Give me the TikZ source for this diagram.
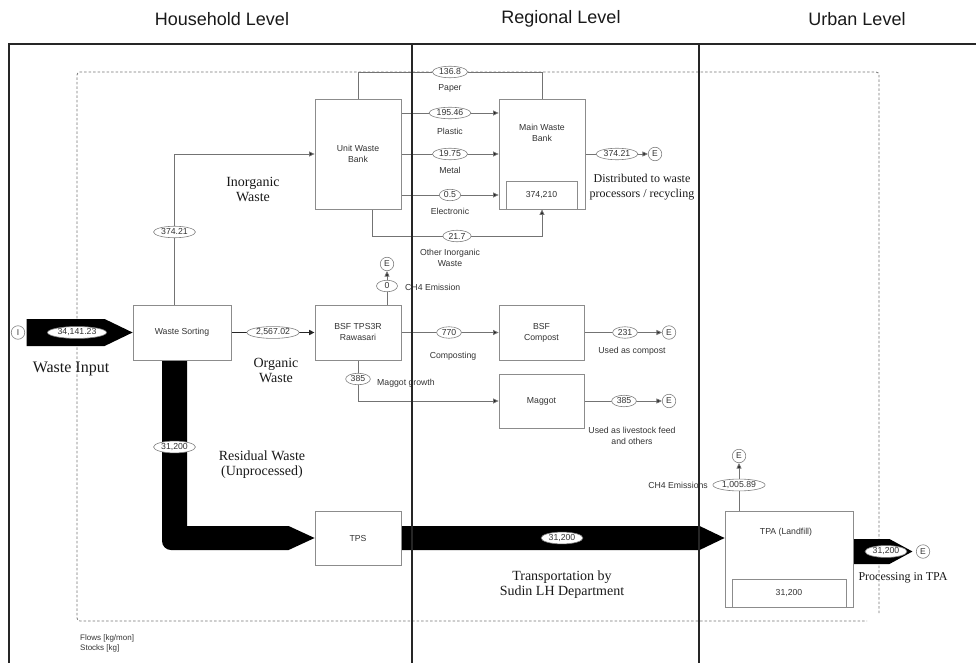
\documentclass[tikz,border=0pt]{standalone}
\usepackage{fontspec}
\setmainfont{Liberation Serif}
\setsansfont{Liberation Sans}
\usetikzlibrary{shapes.geometric,arrows.meta,calc,backgrounds}
\begin{document}
\begin{tikzpicture}[x=1pt,y=-1pt,
  hdr/.style={font=\sffamily\fontsize{18}{20}\selectfont, text=black!90, inner sep=0pt},
  frame/.style={line width=1.8pt, draw=black!85},
  boundary/.style={draw=black!55, line width=0.8pt, dash pattern=on 2.5pt off 2pt, rounded corners=3pt},
  box/.style={draw=black!45, line width=0.8pt, fill=white, font=\sffamily\fontsize{8.7}{11}\selectfont, text=black!80, align=center, inner sep=1pt},
  lbl/.style={font=\sffamily\fontsize{8.7}{11}\selectfont, text=black!80, align=center, inner sep=0pt},
  val/.style={ellipse, draw=black!50, fill=white, line width=0.6pt, font=\sffamily\fontsize{8.7}{9}\selectfont, text=black!80, inner xsep=1.5pt, inner ysep=0.6pt, minimum width=21pt, minimum height=11.5pt},
  envn/.style={circle, draw=black!50, fill=white, line width=0.6pt, minimum size=13.5pt, inner sep=0pt, font=\sffamily\fontsize{8.5}{8.5}\selectfont, text=black!80},
  link/.style={draw=black!55, line width=0.8pt},
  flow/.style={link, -{Triangle[length=5.5pt,width=5pt,fill=black!85]}},
  orgline/.style={draw=black!85, line width=1.4pt},
  band/.style={fill=black},
  serif/.style={font=\rmfamily\fontsize{14}{15}\selectfont, align=center, text=black!90, inner sep=0pt},
  serifS/.style={font=\rmfamily\fontsize{12}{15}\selectfont, align=center, text=black!90, inner sep=0pt},
  serifL/.style={font=\rmfamily\fontsize{16}{18}\selectfont, align=center, text=black!90, inner sep=0pt}
]
\useasboundingbox (0,0) rectangle (976,663);

% headers
\node[hdr] (h1) at (222,19) {Household Level};
\node[hdr] (h2) at (561,19) {Regional Level};
\node[hdr] (h3) at (857,19) {Urban Level};

% boxes
\node[box, minimum width=98pt, minimum height=55pt] (WS) at (182,332.5) {Waste Sorting};
\node[box, minimum width=86pt, minimum height=110pt] (UWB) at (358,154) {Unit Waste\\Bank};
\node[box, minimum width=86pt, minimum height=110pt] (MWB) at (542,154) {};
\node[lbl] (MWBt) at (542,133) {Main Waste\\Bank};
\node[box, minimum width=71pt, minimum height=28pt] (MWBs) at (541.5,195) {374,210};
\node[box, minimum width=86pt, minimum height=55pt] (BSF) at (358,332.5) {BSF TPS3R\\Rawasari};
\node[box, minimum width=85pt, minimum height=55pt] (BC) at (541.5,332.5) {BSF\\Compost};
\node[box, minimum width=85pt, minimum height=54pt] (MG) at (541.5,401) {Maggot};
\node[box, minimum width=86pt, minimum height=54pt] (TPS) at (358,538) {TPS};
\node[box, minimum width=128pt, minimum height=96pt] (TPA) at (789,559) {};
\node[lbl] (TPAt) at (786,532) {TPA (Landfill)};
\node[box, minimum width=114pt, minimum height=28pt] (TPAs) at (789,593) {31,200};

% values and labels
\node[val] (v1) at (450,72) {136.8};
\node[lbl] (l1) at (450,88) {Paper};
\node[val] (v2) at (450,113) {195.46};
\node[lbl] (l2) at (450,131) {Plastic};
\node[val] (v3) at (450,154) {19.75};
\node[lbl] (l3) at (450,170) {Metal};
\node[val] (v4) at (450,195) {0.5};
\node[lbl] (l4) at (450,211) {Electronic};
\node[val] (v5) at (457,236) {21.7};
\node[lbl] (l5) at (450,257.5) {Other Inorganic\\Waste};
\node[val] (v6) at (617,154) {374.21};
\node[envn] (E1) at (655,154) {E};
\node[serifS] (l6) at (642,187) {Distributed to waste\\processors / recycling};
\node[val] (v7) at (174.5,232) {374.21};
\node[serif] (l7) at (253,189) {Inorganic\\Waste};
\node[val] (v8) at (273,332.5) {2,567.02};
\node[serif] (l8) at (276,370) {Organic\\Waste};
\node[val] (v9) at (387,286) {0};
\node[envn] (E2) at (387,264) {E};
\node[lbl, anchor=west] (l9) at (405,287) {CH4 Emission};
\node[val] (v10) at (449,332.5) {770};
\node[lbl] (l10) at (453,356) {Composting};
\node[val] (v11) at (625,332.5) {231};
\node[envn] (E3) at (669,332.5) {E};
\node[lbl] (l11) at (632,351) {Used as compost};
\node[val] (v12) at (358,379) {385};
\node[lbl, anchor=west] (l12) at (377,383) {Maggot growth};
\node[val] (v13) at (624,401) {385};
\node[envn] (E4) at (669,401) {E};
\node[lbl] (l13) at (632,436) {Used as livestock feed\\and others};
\node[val] (v14) at (174.5,447) {31,200};
\node[serif] (l14) at (262,465) {Residual Waste\\(Unprocessed)};
\node[val] (v15) at (562,538) {31,200};
\node[serif] (l15) at (562,585) {Transportation by\\Sudin LH Department};
\node[val] (v16) at (739,485) {1,005.89};
\node[envn] (E5) at (739,456) {E};
\node[lbl, anchor=east] (l16) at (708,485) {CH4 Emissions};
\node[val] (v17) at (886,551.5) {31,200};
\node[envn] (E6) at (923,551.5) {E};
\node[serifS] (l17) at (903,578) {Processing in TPA};
\node[envn] (I) at (18,332.5) {I};
\node[val] (v0) at (77,332.5) {34,141.23};
\node[serifL] (l0) at (71,369) {Waste Input};
\node[lbl, anchor=north west, align=left, font=\sffamily\fontsize{8}{10}\selectfont] (lg) at (80,634) {Flows [kg/mon]\\Stocks [kg]};

\begin{pgfonlayer}{background}
  % system boundary
  \draw[boundary] (879,613) -- (879,72) -- (77,72) -- (77,621) -- (867,621);
  % connectors
  \draw[link] (UWB.north) |- (v1) -| (MWB.north);
  \draw[flow] (UWB.east |- v2) -- (MWB.west |- v2);
  \draw[flow] (UWB.east |- v3) -- (MWB.west |- v3);
  \draw[flow] (UWB.east |- v4) -- (MWB.west |- v4);
  \draw[flow] ($(UWB.south)+(14,0)$) |- (v5) -| (MWB.south);
  \draw[flow] (MWB.east) -- (E1);
  \draw[flow] (v7 |- WS.north) -- (v7) |- (UWB.west);
  \draw[flow, orgline] (WS.east) -- (BSF.west);
  \draw[flow] (v9 |- BSF.north) -- (E2);
  \draw[flow] (BSF.east) -- (BC.west);
  \draw[flow] (BC.east) -- (E3);
  \draw[flow] (v12 |- BSF.south) |- (MG.west);
  \draw[flow] (MG.east) -- (E4);
  \draw[flow] (v16 |- TPA.north) -- (E5);
  % input band
  \fill[band] ($(I.east)+(1.5,-13.5)$) -- ($(WS.west)+(-28,-13.5)$) -- (WS.west)
     -- ($(WS.west)+(-28,13.5)$) -- ($(I.east)+(1.5,13.5)$) -- cycle;
  % residual band
  \coordinate (P) at (v14 |- TPS.west);
  \fill[band] ($(v14 |- WS.south)+(-12.5,0)$) -- ($(P)+(-12.5,3)$)
     .. controls ($(P)+(-12.5,8)$) and ($(P)+(-8.5,12)$) .. ($(P)+(-3.5,12)$)
     -- ($(TPS.west)+(-26,12)$) -- (TPS.west) -- ($(TPS.west)+(-26,-12)$)
     -- ($(P)+(12.5,-12)$) -- ($(v14 |- WS.south)+(12.5,0)$) -- cycle;
  % transport band
  \coordinate (R) at (TPA.west |- TPS.east);
  \fill[band] ($(TPS.east)+(0,-12)$) -- ($(R)+(-25,-12)$) -- (R)
     -- ($(R)+(-25,12)$) -- ($(TPS.east)+(0,12)$) -- cycle;
  % output band
  \coordinate (Q) at (TPA.east |- E6);
  \coordinate (T) at ($(E6.west)+(-3.5,0)$);
  \fill[band] ($(Q)+(0,-12.5)$) -- ($(T)+(-23,-12.5)$) -- (T)
     -- ($(T)+(-23,12.5)$) -- ($(Q)+(0,12.5)$) -- cycle;
\end{pgfonlayer}

% level frame
\coordinate (fTL) at (9,44);
\coordinate (fTR) at (976,44);
\coordinate (fBL) at (9,663);
\coordinate (c1t) at (412,44);
\coordinate (c1b) at (412,663);
\coordinate (c2t) at (699,44);
\coordinate (c2b) at (699,663);
\draw[frame] (fBL) -- (fTL) -- (fTR);
\draw[frame] (c1t) -- (c1b);
\draw[frame] (c2t) -- (c2b);
\end{tikzpicture}
\end{document}
